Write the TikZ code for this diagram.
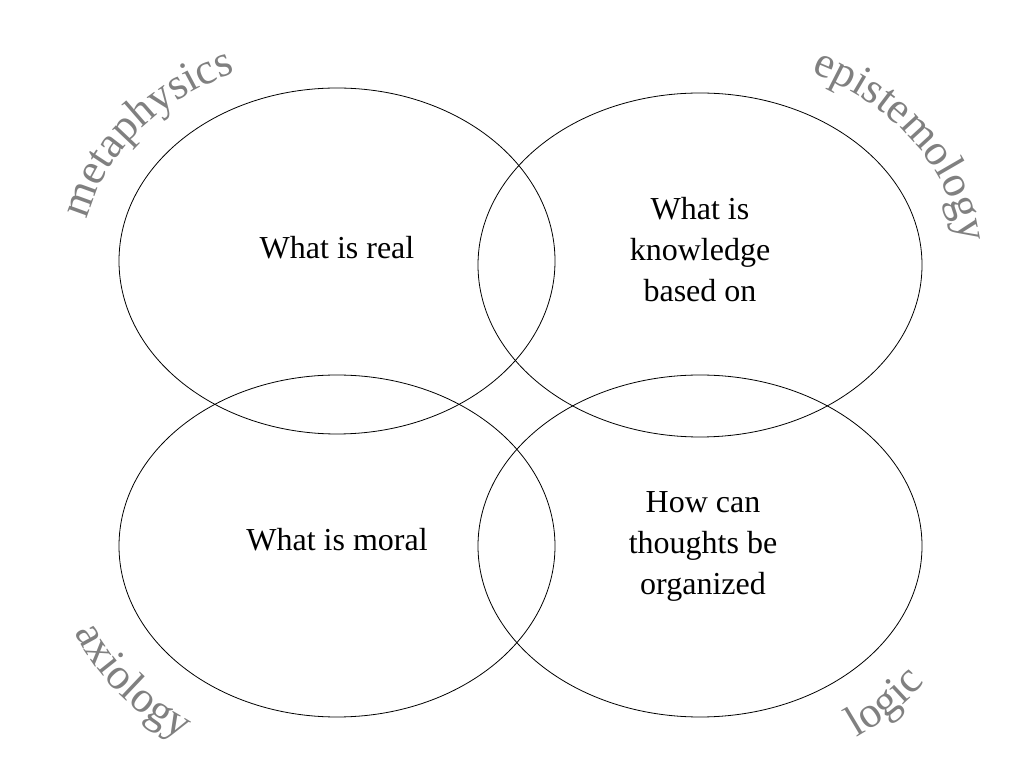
\documentclass[tikz,border=0pt]{standalone}
\usepackage{fontspec}
\setmainfont{Liberation Serif}
\usetikzlibrary{decorations.text,shapes.geometric}
\begin{document}
\begin{tikzpicture}[x=1pt,y=1pt,
  lbl/.style={font=\fontsize{32}{41}\selectfont,align=center},
  ell/.style={draw=black,line width=0.8pt}]
\useasboundingbox (0,0) rectangle (1024,768);
\node[ell,ellipse,minimum width=436,minimum height=346,inner sep=0] (tl) at (337,507) {};
\node[ell,ellipse,minimum width=444,minimum height=344,inner sep=0] (tr) at (700,503) {};
\node[ell,ellipse,minimum width=436,minimum height=342,inner sep=0] (bl) at (337,222) {};
\node[ell,ellipse,minimum width=444,minimum height=342,inner sep=0] (br) at (700,222) {};
\node[lbl] (t1) at (337,520) {What is real};
\node[lbl] (t2) at (700,518) {What is\\knowledge\\based on};
\node[lbl] (t3) at (337,228) {What is moral};
\node[lbl] (t4) at (703,222) {How can\\thoughts be\\organized};
\path[decorate,decoration={text along path,text align=center,
  text={|\fontsize{44}{44}\selectfont\color{gray}|metaphysics}}]
  (337,507) ++(185:255 and 205) arc[start angle=185,end angle=100,x radius=255,y radius=205];
\path[decorate,decoration={text along path,text align=center,
  text={|\fontsize{44}{44}\selectfont\color{gray}|epistemology}}]
  (700,503) ++(78:262 and 212) arc[start angle=78,end angle=-10,x radius=262,y radius=212];
\path[decorate,decoration={text along path,text align=center,
  text={|\fontsize{44}{44}\selectfont\color{gray}|axiology}}]
  (337,222) ++(184:283 and 232) arc[start angle=184,end angle=252,x radius=283,y radius=232];
\path[decorate,decoration={text along path,text align=center,
  text={|\fontsize{44}{44}\selectfont\color{gray}|logic}}]
  (700,222) ++(288:278 and 232) arc[start angle=288,end angle=342,x radius=278,y radius=232];
\end{tikzpicture}
\end{document}
